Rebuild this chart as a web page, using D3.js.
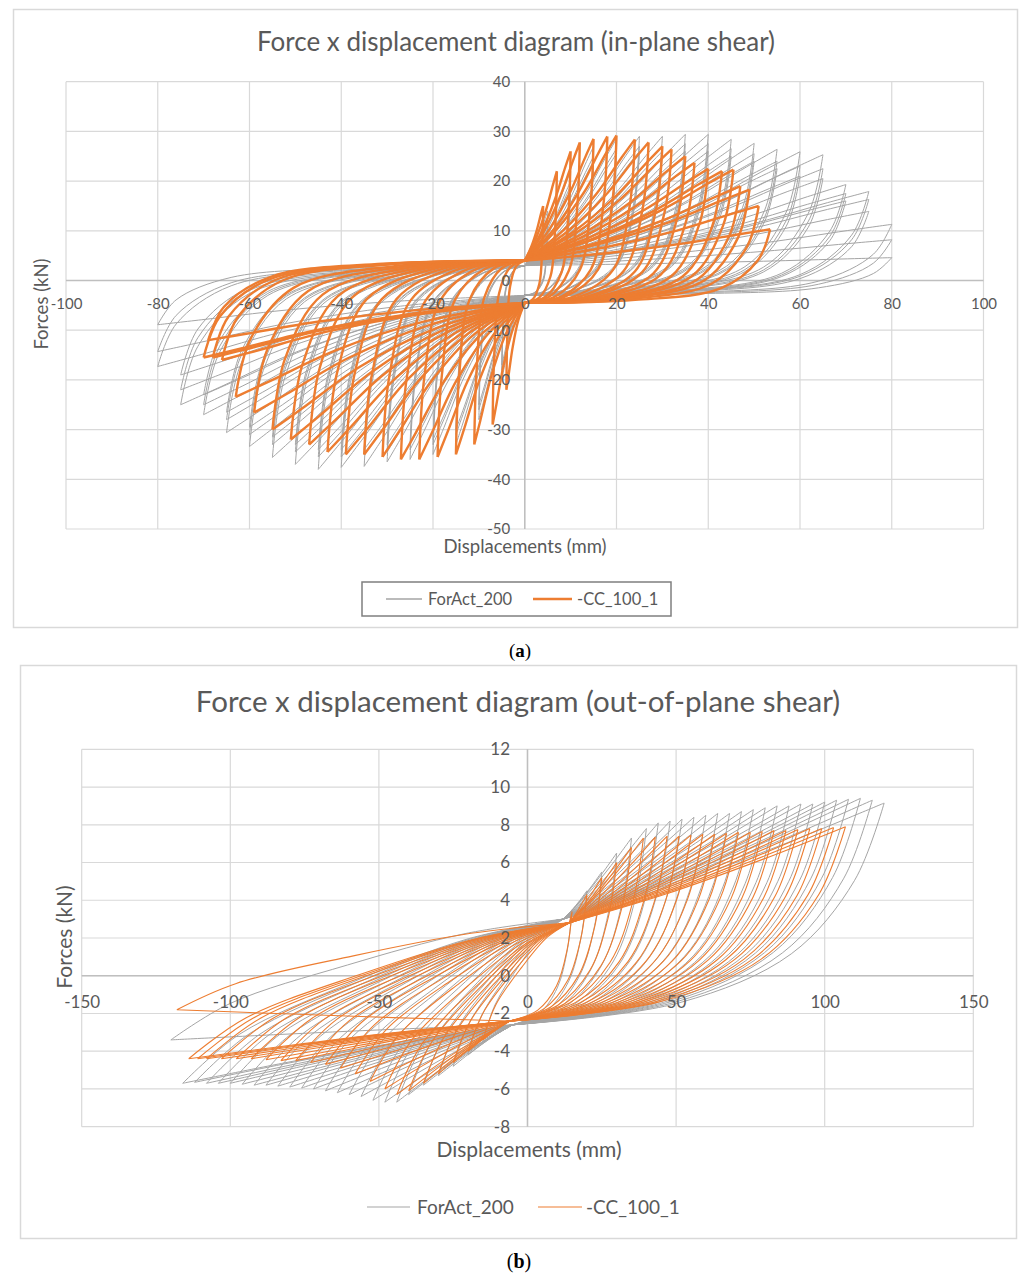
<!DOCTYPE html>
<html>
<head>
<meta charset="utf-8">
<script src="https://cdn.jsdelivr.net/npm/d3@7"></script>
<style>
  body { margin: 0; background: #fff; }
  svg text { font-family: Lato, "Open Sans", sans-serif; fill: #595959; }
</style>
</head>
<body>
<svg id="chart" width="1024" height="1277"></svg>
<script>
// ---------------- panel (a): in-plane shear ----------------
const xTicksA = [-100, -80, -60, -40, -20, 0, 20, 40, 60, 80, 100];
const yTicksA = [-50, -40, -30, -20, -10, 0, 10, 20, 30, 40];

// ForAct_200 : amplitude of each cycle (mm), positive and negative peak force (kN)
const grayAmpA = [5, 5, 5, 10, 10, 10, 15, 15, 15, 20, 20, 20, 25, 25, 25, 30, 30, 30, 35, 35, 35, 40, 40, 40,
  45, 45, 45, 50, 50, 50, 55, 55, 55, 60, 60, 60, 65, 65, 65, 70, 70, 70, 75, 75, 75, 80, 80, 80];
const grayPosA = [14, 12, 11, 22, 20, 19, 27, 25, 24, 28.5, 26.5, 25.5, 29, 27, 26, 29, 27, 26, 29.4, 27.5, 26, 29.4, 27.5, 26,
  28.4, 26.5, 25, 27.6, 25.5, 24, 26.4, 24, 22.5, 25.9, 23, 21, 25.3, 22.5, 20.5, 19.3, 17.5, 16, 17.9, 16.3, 13.9, 11.3, 8.2, 4.6];
const grayNegA = [-20, -18, -17, -28, -26, -25, -33, -31, -30, -35, -33, -32, -36, -34, -33, -36.5, -34.5, -33, -37.4, -35, -34,
  -37.6, -35.5, -34, -38, -35.5, -34, -37, -34.5, -33, -35.6, -33, -31.5, -33.4, -31, -29.5, -30.6, -28, -26.5,
  -27, -25, -23, -25, -22, -19, -17.3, -14.3, -8.9];

// -CC_100_1 : peak displacement / force of each cycle
const orangePosDispA = [4, 7, 10, 12, 15, 18, 20, 24, 27, 30, 32, 35, 37, 40, 43, 45.5, 47, 49, 51, 53.5];
const orangePosForceA = [15, 22, 26, 27.8, 28.5, 29, 29.2, 28.4, 27.8, 27, 26.4, 25, 23.7, 22.5, 22, 22.3, 19, 18.3, 15, 10.3];
const orangeNegDispA = [-4, -7, -11, -15, -19, -23, -27, -31, -35, -39, -43, -47, -51, -55, -59, -63, -66, -68, -69, -70];
const orangeNegForceA = [-22, -29, -33, -35, -35.5, -36, -36, -35.5, -35, -35, -34.5, -33, -32, -30, -26.6, -23.4, -16, -15.5, -12, -15.5];

// pinching points [mm, kN] where the loops cross the force axis
const grayPinchA = { up: [0, 3], low: [0, -3] };
const orangePinchA = { up: [0, 4], low: [0, -4.5] };

// ---------------- panel (b): out-of-plane shear ----------------
const xTicksB = [-150, -100, -50, 0, 50, 100, 150];
const yTicksB = [-8, -6, -4, -2, 0, 2, 4, 6, 8, 10, 12];

const grayAmpB = [15, 20, 25, 30, 35, 40, 44, 48, 52, 56, 60, 64, 68, 72, 76, 80, 84, 88, 92, 96, 100, 104, 108, 112, 116, 120];
const grayPosB = [3.5, 4.5, 5.5, 6.5, 7.3, 7.8, 8.1, 8.2, 8.3, 8.4, 8.5, 8.6, 8.6, 8.7, 8.8, 8.9, 9.0, 9.0, 9.1, 9.1, 9.2, 9.3, 9.35, 9.4, 9.3, 9.15];
const grayNegB = [-3.5, -4.2, -4.8, -5.3, -5.8, -6.3, -6.7, -6.7, -6.6, -6.4, -6.3, -6.2, -6.1, -6.0, -5.95, -5.9, -5.85, -5.8, -5.8,
  -5.75, -5.7, -5.7, -5.7, -5.65, -5.7, -3.4];

const orangePosDispB = [15, 20, 25, 30, 35, 39, 43, 47, 51, 55, 59, 63, 67, 71, 75, 79, 83, 87, 91, 95, 99, 103, 107];
const orangePosForceB = [3.4, 4.3, 5.2, 6.0, 6.8, 7.3, 7.35, 7.4, 7.4, 7.45, 7.5, 7.5, 7.55, 7.6, 7.6, 7.65, 7.7, 7.7, 7.75, 7.8, 7.8, 7.85, 7.9];
const orangeNegDispB = [-15, -20, -25, -30, -35, -40, -44, -48, -53, -58, -63, -68, -73, -78, -83, -88, -93, -98, -103, -108, -111, -114, -118];
const orangeNegForceB = [-3.4, -4.0, -4.6, -5.2, -5.7, -6.1, -6.3, -6.0, -5.6, -5.2, -4.9, -4.7, -4.6, -4.5, -4.5, -4.45, -4.4, -4.4,
  -4.4, -4.4, -4.4, -4.4, -1.8];

const grayPinchB = { up: [12, 3.0], low: [-5, -2.6] };
const orangePinchB = { up: [14, 2.8], low: [-6, -2.4] };

// loop branch shapes: [fraction of displacement, fraction of force] from the start to the end of a branch
const shapeA = {
    reloadPos: [[0.35, 0.25], [0.65, 0.55], [0.88, 0.85]],
    unloadPos: [[0.05, 0.42], [0.2, 0.8], [0.55, 0.96]],
    reloadNeg: [[0.35, 0.2], [0.65, 0.5], [0.88, 0.83]],
    unloadNeg: [[0.05, 0.42], [0.2, 0.8], [0.55, 0.96]]
};
const shapeB = {
    reloadPos: [[0.35, 0.3], [0.7, 0.66]],
    unloadPos: [[0.08, 0.35], [0.25, 0.68], [0.55, 0.9]],
    reloadNeg: [[0.35, 0.3], [0.7, 0.66]],
    unloadNeg: [[0.15, 0.3], [0.45, 0.62], [0.75, 0.88]]
};

const grayColor = "#a5a5a5";
const orangeColor = "#ed7d31";

const svg = d3.select("#chart");
const loopLine = d3.line().curve(d3.curveCatmullRom.alpha(0.5));
const tickText = d => String(d); // plain hyphen minus, as in the original

//Builds one full cycle: upper pinch -> positive peak -> lower pinch -> negative peak -> upper pinch
const cyclePath = (x, y, shape, pinch, dp, fp, dn, fn) => {
    const branch = (from, to, pts) => [from, ...pts.map(([s, h]) =>
        [from[0] + s * (to[0] - from[0]), from[1] + h * (to[1] - from[1])]), to];
    const P = [dp, fp];
    const N = [dn, fn];
    const segs = [
        branch(pinch.up, P, shape.reloadPos),
        branch(P, pinch.low, shape.unloadPos),
        branch(pinch.low, N, shape.reloadNeg),
        branch(N, pinch.up, shape.unloadNeg)
    ];
    return segs.map(s => loopLine(s.map(([d, f]) => [x(d), y(f)]))).join("");
};

//Grid, axes and labels of one panel
const drawFrame = (p) => {
    const g = svg.append("g");
    g.append("rect")
        .attr("x", p.box[0]).attr("y", p.box[1])
        .attr("width", p.box[2]).attr("height", p.box[3])
        .attr("fill", "#fff").attr("stroke", "#d9d9d9").attr("stroke-width", 1.5);

    const [x0, x1] = p.x.range();
    const [y0, y1] = p.y.range();
    g.selectAll(".hgrid").data(p.yTicks).join("line")
        .attr("x1", x0).attr("x2", x1)
        .attr("y1", d => p.y(d)).attr("y2", d => p.y(d))
        .attr("stroke", "#d9d9d9").attr("stroke-width", 1.2);
    g.selectAll(".vgrid").data(p.xTicks).join("line")
        .attr("y1", y0).attr("y2", y1)
        .attr("x1", d => p.x(d)).attr("x2", d => p.x(d))
        .attr("stroke", "#d9d9d9").attr("stroke-width", 1.2);

    //zero axes
    g.append("line").attr("x1", x0).attr("x2", x1).attr("y1", p.y(0)).attr("y2", p.y(0))
        .attr("stroke", "#bfbfbf").attr("stroke-width", 1.5);
    g.append("line").attr("x1", p.x(0)).attr("x2", p.x(0)).attr("y1", y0).attr("y2", y1)
        .attr("stroke", "#bfbfbf").attr("stroke-width", 1.5);

    //title
    svg.append("text").attr("x", p.titlePos[0]).attr("y", p.titlePos[1])
        .attr("text-anchor", "middle").style("font-size", p.titleSize + "px").text(p.title);

    //axis titles
    svg.append("text").attr("x", p.xTitlePos[0]).attr("y", p.xTitlePos[1])
        .attr("text-anchor", "middle").style("font-size", p.axisTitleSize + "px").text("Displacements (mm)");
    svg.append("text")
        .attr("transform", `translate(${p.yTitlePos[0]},${p.yTitlePos[1]}) rotate(-90)`)
        .attr("text-anchor", "middle").attr("dy", "0.35em")
        .style("font-size", p.axisTitleSize + "px").text("Forces (kN)");
};

//Tick labels go on top of the curves, like the original
const drawTickLabels = (p) => {
    const xAxis = svg.append("g")
        .attr("transform", `translate(0,${p.y(0)})`)
        .call(d3.axisBottom(p.x).tickValues(p.xTicks).tickSize(0).tickPadding(p.xPad).tickFormat(tickText));
    const yAxis = svg.append("g")
        .attr("transform", `translate(${p.x(0)},0)`)
        .call(d3.axisLeft(p.y).tickValues(p.yTicks).tickSize(0).tickPadding(p.yPad).tickFormat(tickText));
    [xAxis, yAxis].forEach(a => {
        a.select(".domain").remove();
        a.selectAll("text").attr("fill", "#595959")
            .style("font-family", "Lato, sans-serif").style("font-size", p.tickSize + "px");
    });
};

const drawSeries = (p, shape, pinch, posD, posF, negD, negF, color, width) => {
    svg.append("g").selectAll("path")
        .data(d3.range(posD.length))
        .join("path")
        .attr("d", i => cyclePath(p.x, p.y, shape, pinch, posD[i], posF[i], negD[i], negF[i]))
        .attr("fill", "none")
        .attr("stroke", color)
        .attr("stroke-width", width)
        .attr("stroke-linejoin", "round");
};

const drawLegend = (l) => {
    if (l.box) {
        svg.append("rect").attr("x", l.box[0]).attr("y", l.box[1]).attr("width", l.box[2]).attr("height", l.box[3])
            .attr("fill", "#fff").attr("stroke", "#7f7f7f").attr("stroke-width", 1.5);
    }
    l.items.forEach(it => {
        svg.append("line").attr("x1", it.line[0]).attr("x2", it.line[1]).attr("y1", l.y).attr("y2", l.y)
            .attr("stroke", it.color).attr("stroke-width", it.width);
        svg.append("text").attr("x", it.textX).attr("y", l.y).attr("dy", "0.35em")
            .style("font-size", l.size + "px").text(it.label);
    });
};

const panelA = {
    box: [13.5, 9.5, 1004, 618],
    x: d3.scaleLinear().domain([-100, 100]).range([66, 983.5]),
    y: d3.scaleLinear().domain([-50, 40]).range([529, 81.7]),
    xTicks: xTicksA, yTicks: yTicksA,
    title: "Force x displacement diagram (in-plane shear)", titleSize: 26, titlePos: [516, 51],
    xTitlePos: [525, 553], yTitlePos: [42, 304], axisTitleSize: 18.5,
    tickSize: 15, xPad: 18, yPad: 14.5
};

const panelB = {
    box: [20.5, 665.5, 996, 573],
    x: d3.scaleLinear().domain([-150, 150]).range([81.7, 973.3]),
    y: d3.scaleLinear().domain([-8, 12]).range([1126.7, 749.3]),
    xTicks: xTicksB, yTicks: yTicksB,
    title: "Force x displacement diagram (out-of-plane shear)", titleSize: 29.5, titlePos: [518, 712],
    xTitlePos: [529, 1157], yTitlePos: [65, 937], axisTitleSize: 21,
    tickSize: 17, xPad: 20, yPad: 17.5
};

// panel (a)
drawFrame(panelA);
drawSeries(panelA, shapeA, grayPinchA, grayAmpA, grayPosA, grayAmpA.map(d => -d), grayNegA, grayColor, 1);
drawSeries(panelA, shapeA, orangePinchA, orangePosDispA, orangePosForceA, orangeNegDispA, orangeNegForceA, orangeColor, 2.4);
drawTickLabels(panelA);
drawLegend({
    box: [362, 582, 309, 34], y: 599, size: 16.5,
    items: [
        { line: [386, 422], textX: 428, color: grayColor, width: 1.5, label: "ForAct_200" },
        { line: [533, 572], textX: 577, color: orangeColor, width: 2.5, label: "-CC_100_1" }
    ]
});

// panel (b)
drawFrame(panelB);
drawSeries(panelB, shapeB, grayPinchB, grayAmpB, grayPosB, grayAmpB.map(d => -d), grayNegB, grayColor, 1);
drawSeries(panelB, shapeB, orangePinchB, orangePosDispB, orangePosForceB, orangeNegDispB, orangeNegForceB, orangeColor, 1.1);
drawTickLabels(panelB);
drawLegend({
    y: 1207, size: 19,
    items: [
        { line: [367, 410], textX: 417, color: grayColor, width: 1.2, label: "ForAct_200" },
        { line: [538, 582], textX: 586, color: orangeColor, width: 1.2, label: "-CC_100_1" }
    ]
});

// sub-figure captions
[["a", 520, 657, 19], ["b", 519, 1268, 20]].forEach(([letter, cx, cy, size]) => {
    const t = svg.append("text").attr("x", cx).attr("y", cy).attr("text-anchor", "middle")
        .style("font-family", "'Liberation Serif', 'DejaVu Serif', serif").style("font-size", size + "px")
        .style("fill", "#000");
    t.append("tspan").text("(");
    t.append("tspan").style("font-weight", "bold").text(letter);
    t.append("tspan").text(")");
});
</script>
</body>
</html>
